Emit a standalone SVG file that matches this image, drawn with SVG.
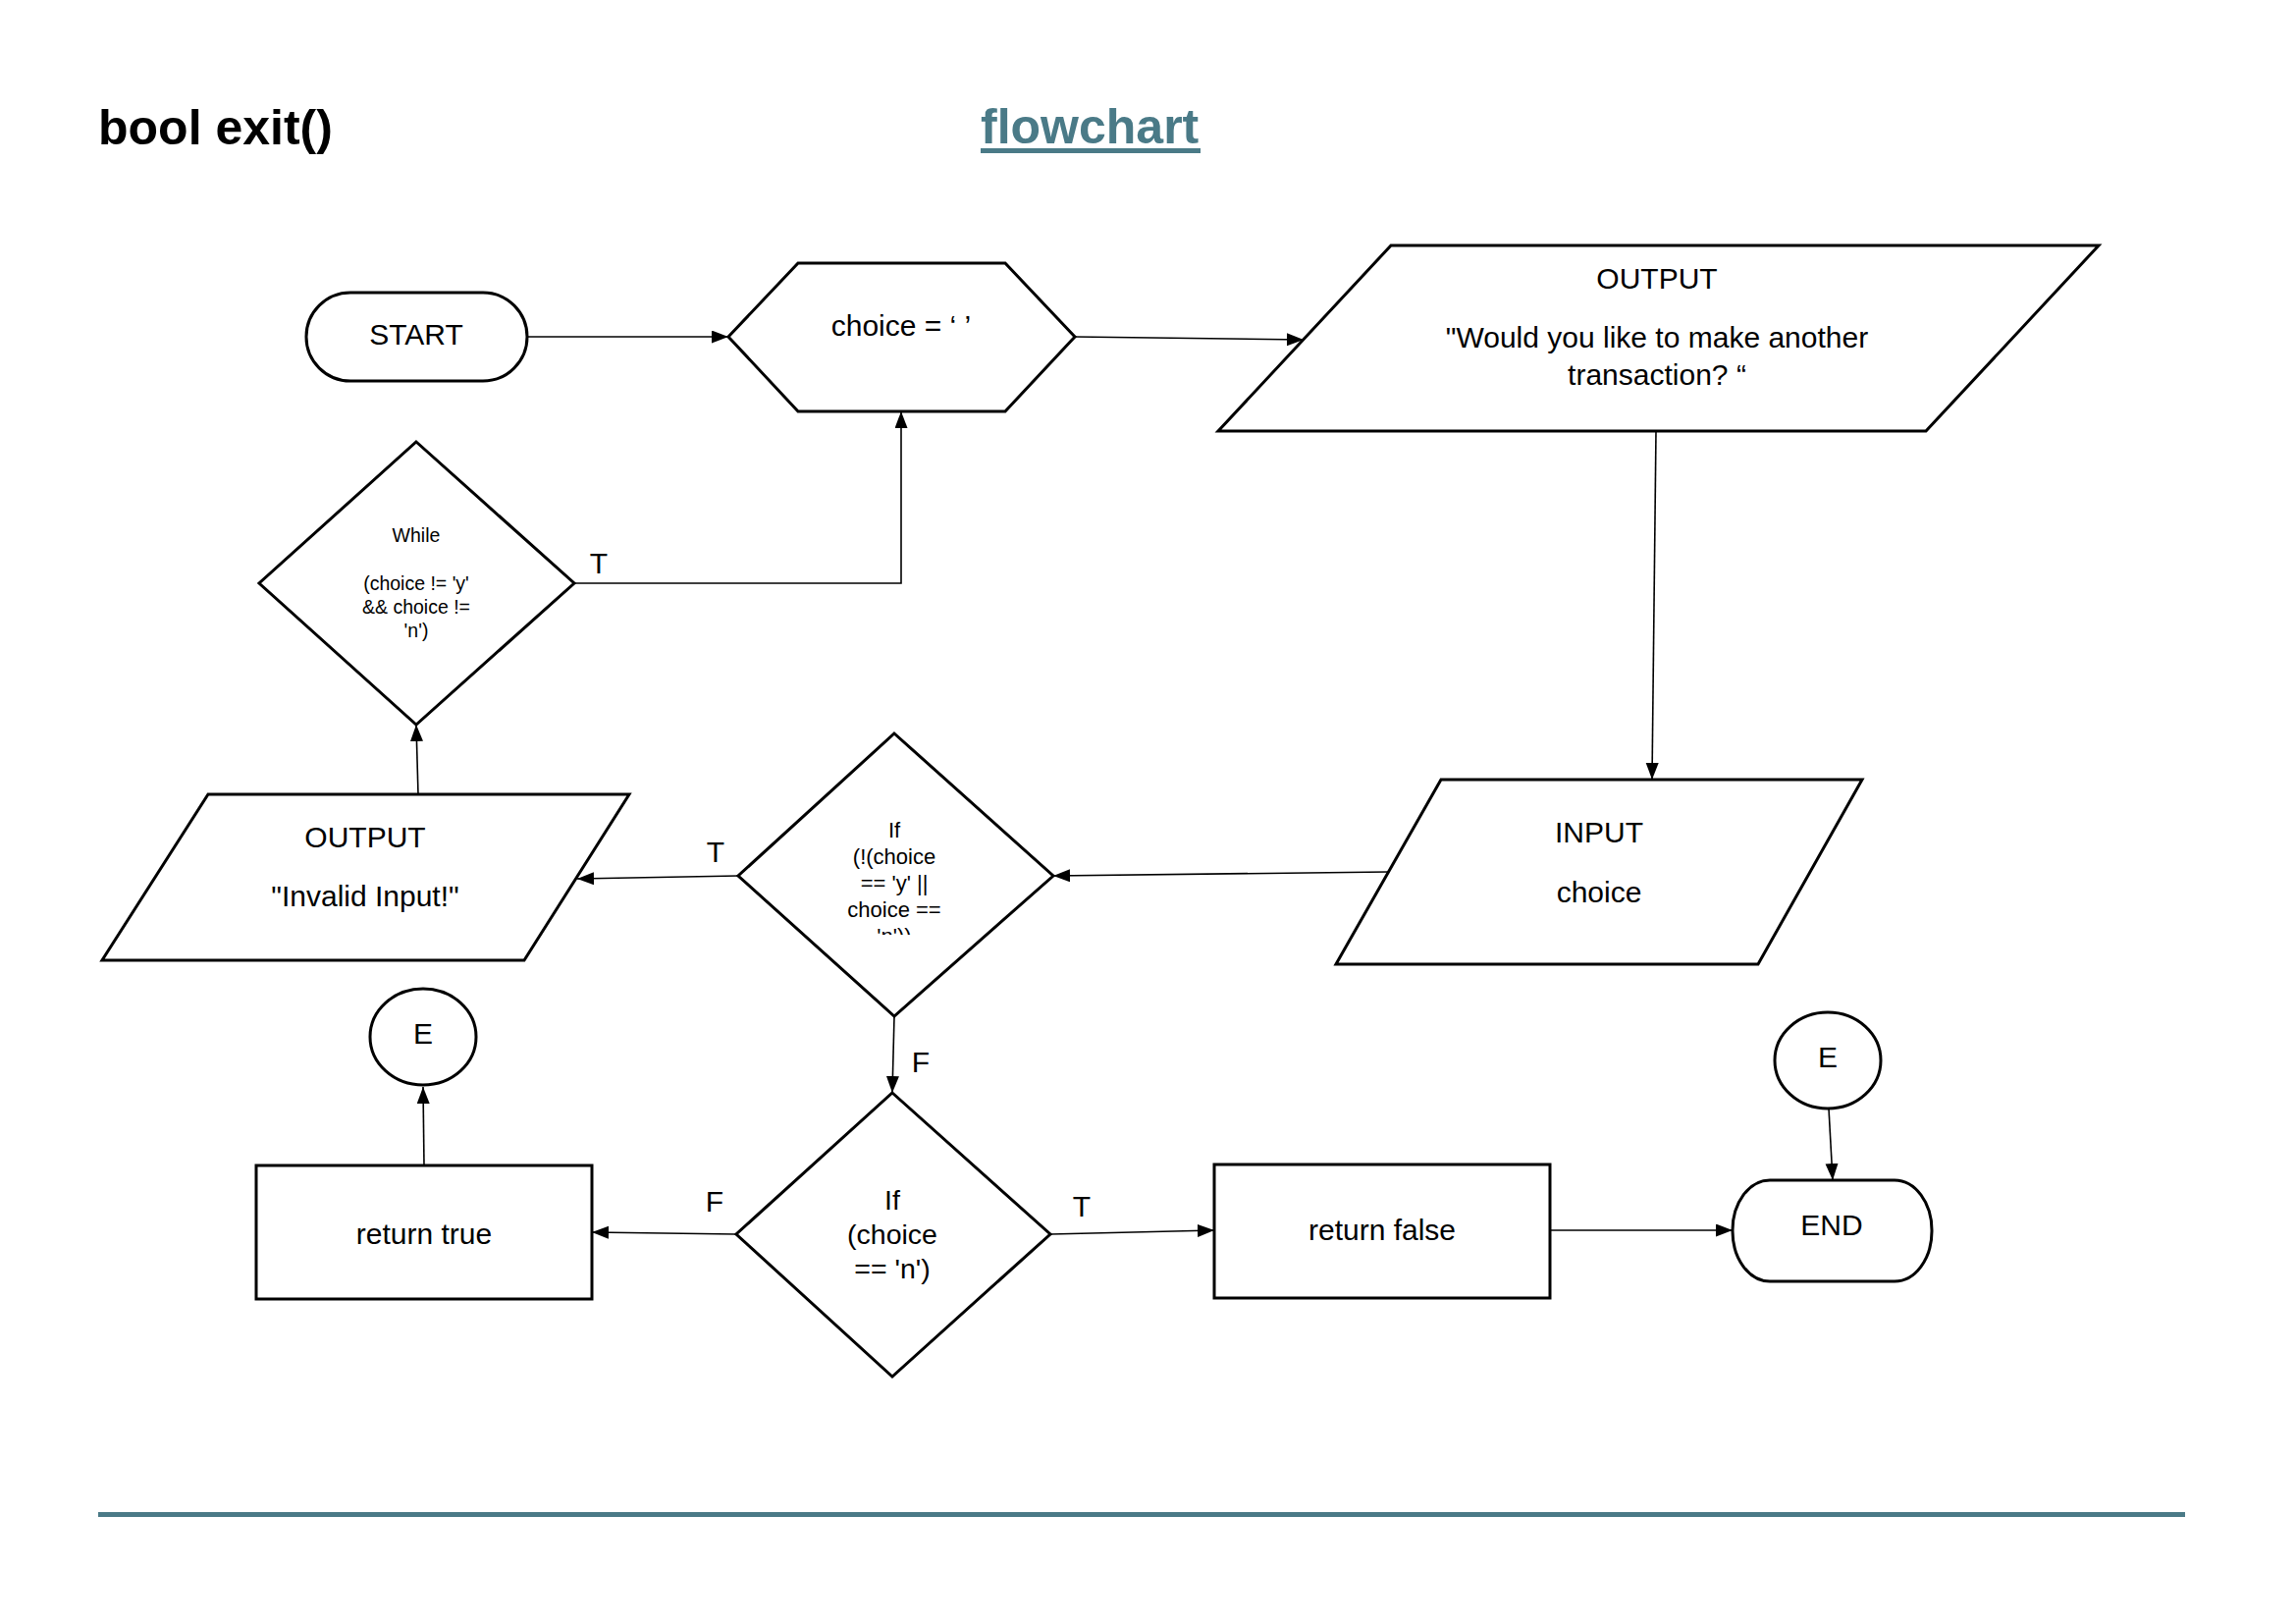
<svg xmlns="http://www.w3.org/2000/svg" width="2339" height="1654" viewBox="0 0 2339 1654">
<style>
.shape{fill:#fff;stroke:#000;stroke-width:3;stroke-linejoin:miter}
.conn{fill:none;stroke:#000;stroke-width:1.6}
text{font-family:"Liberation Sans",Arial,sans-serif;fill:#000;text-anchor:middle}
.t30{font-size:30px}
.t28{font-size:28.5px}
.t22{font-size:22px}
.t19{font-size:19.5px}
.lbl{font-size:30px}
.title{font-size:50px;font-weight:bold;text-anchor:start}
</style>
<defs>
<marker id="arr" markerUnits="userSpaceOnUse" markerWidth="18" markerHeight="14" refX="17" refY="6.5" orient="auto">
<path d="M0,0 L17,6.5 L0,13 z" fill="#000"/>
</marker>
<clipPath id="clipIf1"><rect x="752" y="747" width="320" height="205"/></clipPath>
</defs>
<rect width="2339" height="1654" fill="#fff"/>
<g id="titles">
<text class="title" x="100" y="147">bool exit()</text>
<text class="title" x="999" y="146" style="fill:#4a7a87">flowchart</text>
<rect x="999" y="151" width="224" height="5" fill="#4a7a87"/>
<rect x="100" y="1540" width="2126" height="5" fill="#4a7a87"/>
</g>
<g id="connectors">
<path class="conn" d="M537,343 L742,343" marker-end="url(#arr)"/>
<path class="conn" d="M1095,343 L1328,346" marker-end="url(#arr)"/>
<path class="conn" d="M1687,439 L1683,794" marker-end="url(#arr)"/>
<path class="conn" d="M1414,888 L1073,892" marker-end="url(#arr)"/>
<path class="conn" d="M752,892 L588,895" marker-end="url(#arr)"/>
<path class="conn" d="M426,809 L424,738" marker-end="url(#arr)"/>
<path class="conn" d="M585,594 L918,594 L918,419" marker-end="url(#arr)"/>
<path class="conn" d="M911,1035 L909,1113" marker-end="url(#arr)"/>
<path class="conn" d="M750,1257 L603,1255" marker-end="url(#arr)"/>
<path class="conn" d="M1070,1257 L1237,1253" marker-end="url(#arr)"/>
<path class="conn" d="M1579,1253 L1765,1253" marker-end="url(#arr)"/>
<path class="conn" d="M432,1187 L431,1107" marker-end="url(#arr)"/>
<path class="conn" d="M1863,1129 L1867,1202" marker-end="url(#arr)"/>
<text class="lbl" x="610" y="584">T</text>
<text class="lbl" x="729" y="878">T</text>
<text class="lbl" x="938" y="1092">F</text>
<text class="lbl" x="728" y="1234">F</text>
<text class="lbl" x="1102" y="1239">T</text>
</g>
<g id="start">
<rect class="shape" x="312" y="298" width="225" height="90" rx="45" ry="45"/>
<text class="t30" x="424" y="351">START</text>
</g>
<g id="init">
<polygon class="shape" points="742,343 813,268 1024,268 1095,343 1024,419 813,419"/>
<text class="t30" x="918" y="342">choice = ‘ ’</text>
</g>
<g id="output1">
<polygon class="shape" points="1417,250 2138,250 1962,439 1241,439"/>
<text class="t30" x="1688" y="294">OUTPUT</text>
<text class="t30" x="1688" y="354">"Would you like to make another</text>
<text class="t30" x="1688" y="392">transaction? “</text>
</g>
<g id="input">
<polygon class="shape" points="1468,794 1897,794 1791,982 1361,982"/>
<text class="t30" x="1629" y="858">INPUT</text>
<text class="t30" x="1629" y="919">choice</text>
</g>
<g id="if1">
<polygon class="shape" points="911,747 1073,892 911,1035 752,892"/>
<g clip-path="url(#clipIf1)">
<text class="t22" x="911" y="853">If</text>
<text class="t22" x="911" y="880">(!(choice</text>
<text class="t22" x="911" y="907">== 'y' ||</text>
<text class="t22" x="911" y="934">choice ==</text>
<text class="t22" x="911" y="961">'n'))</text>
</g>
</g>
<g id="output2">
<polygon class="shape" points="212,809 641,809 534,978 104,978"/>
<text class="t30" x="372" y="863">OUTPUT</text>
<text class="t30" x="372" y="923">"Invalid Input!"</text>
</g>
<g id="while">
<polygon class="shape" points="424,450 585,594 424,738 264,594"/>
<text class="t19" x="424" y="552">While</text>
<text class="t19" x="424" y="601">(choice != 'y'</text>
<text class="t19" x="424" y="625">&amp;&amp; choice !=</text>
<text class="t19" x="424" y="649">'n')</text>
</g>
<g id="if2">
<polygon class="shape" points="909,1113 1070,1257 909,1402 750,1257"/>
<text class="t28" x="909" y="1232">If</text>
<text class="t28" x="909" y="1267">(choice</text>
<text class="t28" x="909" y="1302">== 'n')</text>
</g>
<g id="returnTrue">
<rect class="shape" x="261" y="1187" width="342" height="136"/>
<text class="t30" x="432" y="1267">return true</text>
</g>
<g id="returnFalse">
<rect class="shape" x="1237" y="1186" width="342" height="136"/>
<text class="t30" x="1408" y="1263">return false</text>
</g>
<g id="e1">
<ellipse class="shape" cx="431" cy="1056" rx="54" ry="49"/>
<text class="t30" x="431" y="1063">E</text>
</g>
<g id="e2">
<ellipse class="shape" cx="1862" cy="1080" rx="54" ry="49"/>
<text class="t30" x="1862" y="1087">E</text>
</g>
<g id="end">
<rect class="shape" x="1765" y="1202" width="203" height="103" rx="38" ry="51"/>
<text class="t30" x="1866" y="1258">END</text>
</g>
</svg>
